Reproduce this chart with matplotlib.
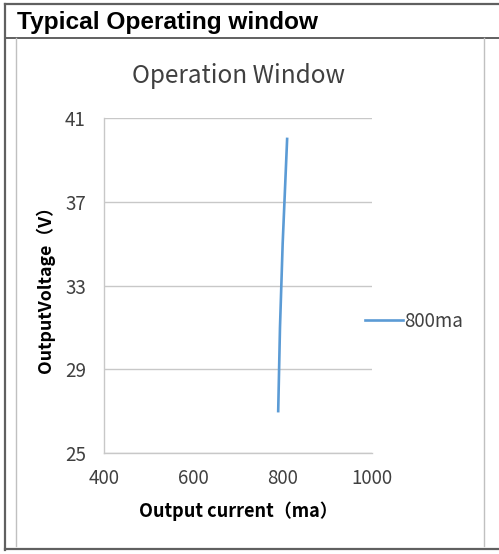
import matplotlib
matplotlib.use("Agg")
import matplotlib.pyplot as plt
from matplotlib.lines import Line2D

# data
voltage = [27, 29, 31, 33, 35, 37, 39, 40]
current = [790, 792, 794, 797, 800, 804, 808, 810]
x_ticks = [400, 600, 800, 1000]
y_ticks = [25, 29, 33, 37, 41]
series_label = "800ma"

BLUE = "#5B9BD5"
GRID = "#C8C8C8"
FONT = ["Noto Sans CJK SC", "DejaVu Sans"]

W, H = 499, 554
fig = plt.figure(figsize=(W / 100, H / 100), dpi=100)

def px(x, y):
    return x / W, 1 - y / H

# frame around the figure (the datasheet box)
def fline(x0, y0, x1, y1, color, lw):
    a, b = px(x0, y0)
    c, d = px(x1, y1)
    fig.add_artist(Line2D([a, c], [b, d], color=color, lw=lw, transform=fig.transFigure))

fline(5, 4, W, 4, "#606060", 1.6)
fline(5, 4, 5, 550, "#606060", 1.6)
fline(5, 549, W, 549, "#606060", 1.6)
fline(5, 38, W, 38, "#606060", 1.4)
fline(16, 38, 16, 546, "#C0C0C0", 1.0)
fline(484, 38, 484, 546, "#C0C0C0", 1.0)

fig.text(*px(17, 22), "Typical Operating window", fontsize=17.6, fontweight="bold",
         family="Liberation Sans", va="center", ha="left")

ax = fig.add_axes([104 / W, 1 - 453 / H, (372 - 104) / W, (453 - 118) / H])
ax.plot(current, voltage, color=BLUE, lw=1.9, label=series_label)

ax.set_xlim(400, 1000)
ax.set_ylim(25, 41)
ax.set_xticks(x_ticks)
ax.set_yticks(y_ticks)
ax.grid(True, axis="y", color=GRID, lw=1.0)
ax.set_axisbelow(True)
for s in ("top", "right"):
    ax.spines[s].set_visible(False)
for s in ("left", "bottom"):
    ax.spines[s].set_color(GRID)
    ax.spines[s].set_linewidth(1.0)
ax.tick_params(length=0, labelsize=13.5, colors="#404040")
ax.tick_params(axis="y", pad=13)
ax.tick_params(axis="x", pad=11)
for lab in ax.get_xticklabels() + ax.get_yticklabels():
    lab.set_family(FONT)

ax.set_title("Operation Window", fontsize=17.5, family=FONT, color="#404040", pad=25)
ax.set_xlabel("Output current（ma）", fontsize=13, fontweight="bold", family=FONT, labelpad=9)
ax.set_ylabel("OutputVoltage（V）", fontsize=12.8, fontweight="bold", family=FONT, labelpad=7)

leg = ax.legend(loc="center left", bbox_to_anchor=(0.974, 0.394), frameon=False,
                borderpad=0, borderaxespad=0, handlelength=2.0, handletextpad=0.1,
                prop={"family": FONT, "size": 13.5})
for t in leg.get_texts():
    t.set_color("#404040")

fig.savefig("out.png", dpi=100)
